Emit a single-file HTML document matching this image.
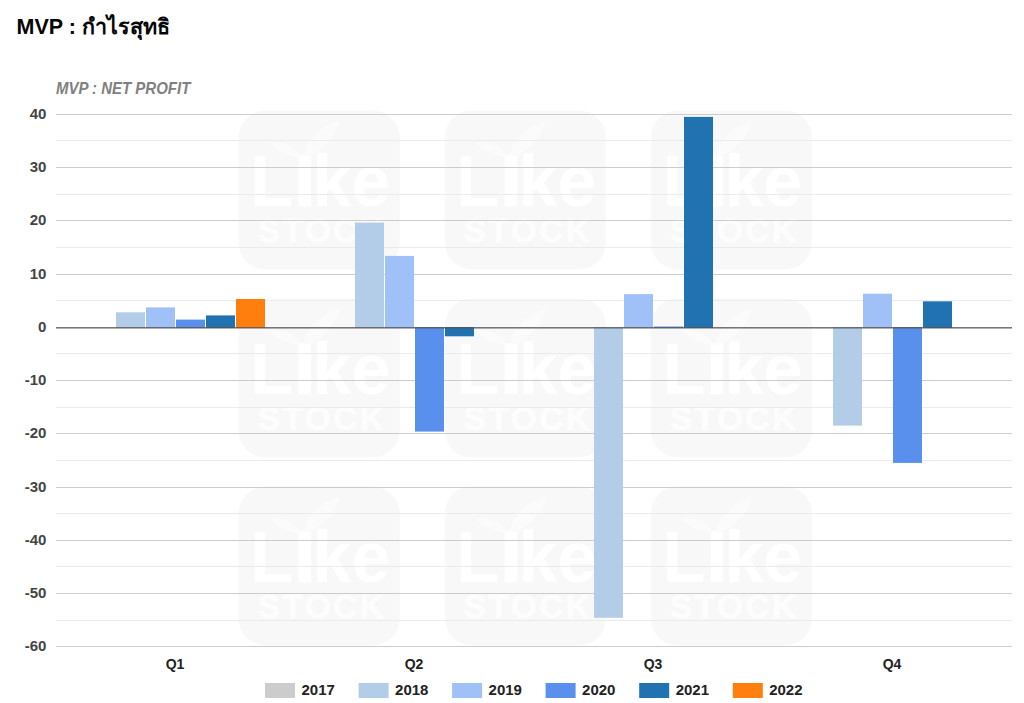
<!DOCTYPE html>
<html lang="th"><head><meta charset="utf-8"><title>MVP : Net Profit</title>
<style>
html,body{margin:0;padding:0;background:#fff;}
body{width:1024px;height:703px;overflow:hidden;position:relative;font-family:"Liberation Sans",sans-serif;}
svg{position:absolute;left:0;top:0;display:block;}
text{font-family:"Liberation Sans",sans-serif;font-weight:bold;}
.yl{font-size:15px;fill:#444;text-anchor:end;}
.xl{font-size:14px;fill:#222;text-anchor:middle;}
.lg{font-size:15px;fill:#222;}
.sub{font-size:15px;font-style:italic;fill:#808080;}
.wmL{font-size:70px;fill:#fff;}
.wmS{font-size:33.5px;fill:#fdfdfd;letter-spacing:2.4px;stroke:#fdfdfd;stroke-width:0.9px;}
</style></head><body>
<svg width="1024" height="703" viewBox="0 0 1024 703">
<rect width="1024" height="703" fill="#fff"/>
<g role="img" aria-label="MVP : กำไรสุทธิ"><title>MVP : กำไรสุทธิ</title>
<text x="16.5" y="33.8" font-size="21.5" fill="#050505" style="font-family:'Liberation Sans',sans-serif;font-weight:bold;">MVP : กำไรสุทธิ</text>
</g>
<text class="sub" transform="translate(56 94.2) scale(1 1.07)">MVP : NET PROFIT</text>
<defs><g id="wm">
<rect x="0" y="0" width="161" height="161" rx="27" ry="27" fill="#f8f8f8"/>
<g transform="translate(0 97) scale(1 1.035) translate(0 -97)">
<text class="wmL" x="11.5" y="97">L</text>
<rect x="59.8" y="46.9" width="12.4" height="50.1" fill="#fff"/>
<text class="wmL" x="73.8" y="97">ke</text>
</g>
<text class="wmS" x="19" y="133.2">STOCK</text>
<path fill="#fbfbfb" d="M65 46.5 C66 33 80 16 101 10 C99 23 88 38 70 46.5 Z"/>
<path fill="#fbfbfb" d="M63 46.5 C58 38 48 32 31 32 C36 40 47 45 61 47.5 Z"/>
</g></defs>
<use href="#wm" transform="translate(238.7 110.5) scale(1 0.9876)"/>
<use href="#wm" transform="translate(444.8 110.5) scale(1 0.9876)"/>
<use href="#wm" transform="translate(650.9 110.5) scale(1 0.9876)"/>
<use href="#wm" transform="translate(238.7 298.5) scale(1 0.9876)"/>
<use href="#wm" transform="translate(444.8 298.5) scale(1 0.9876)"/>
<use href="#wm" transform="translate(650.9 298.5) scale(1 0.9876)"/>
<use href="#wm" transform="translate(238.7 486.5) scale(1 0.9876)"/>
<use href="#wm" transform="translate(444.8 486.5) scale(1 0.9876)"/>
<use href="#wm" transform="translate(650.9 486.5) scale(1 0.9876)"/>
<g shape-rendering="crispEdges">
<rect x="56" y="114" width="956" height="1" fill="#cccccc"/>
<rect x="56" y="140" width="956" height="1" fill="#ebebeb"/>
<rect x="56" y="167" width="956" height="1" fill="#cccccc"/>
<rect x="56" y="194" width="956" height="1" fill="#ebebeb"/>
<rect x="56" y="220" width="956" height="1" fill="#cccccc"/>
<rect x="56" y="247" width="956" height="1" fill="#ebebeb"/>
<rect x="56" y="274" width="956" height="1" fill="#cccccc"/>
<rect x="56" y="300" width="956" height="1" fill="#ebebeb"/>
<rect x="56" y="353" width="956" height="1" fill="#ebebeb"/>
<rect x="56" y="380" width="956" height="1" fill="#cccccc"/>
<rect x="56" y="407" width="956" height="1" fill="#ebebeb"/>
<rect x="56" y="433" width="956" height="1" fill="#cccccc"/>
<rect x="56" y="460" width="956" height="1" fill="#ebebeb"/>
<rect x="56" y="487" width="956" height="1" fill="#cccccc"/>
<rect x="56" y="513" width="956" height="1" fill="#ebebeb"/>
<rect x="56" y="540" width="956" height="1" fill="#cccccc"/>
<rect x="56" y="566" width="956" height="1" fill="#ebebeb"/>
<rect x="56" y="593" width="956" height="1" fill="#cccccc"/>
<rect x="56" y="620" width="956" height="1" fill="#ebebeb"/>
<rect x="56" y="646" width="956" height="1" fill="#cccccc"/>
</g><g>
<rect x="116" y="312.3" width="29" height="15.7" fill="#b3cce8"/>
<rect x="146" y="307.4" width="29" height="20.6" fill="#a0c1f7"/>
<rect x="176" y="319.6" width="29" height="8.4" fill="#5990ee"/>
<rect x="206" y="315.4" width="29" height="12.6" fill="#2072b0"/>
<rect x="236" y="299.0" width="29" height="29.0" fill="#ff7f0e"/>
<rect x="355" y="222.6" width="29" height="105.4" fill="#b3cce8"/>
<rect x="385" y="255.9" width="29" height="72.1" fill="#a0c1f7"/>
<rect x="415" y="327.0" width="29" height="104.6" fill="#5990ee"/>
<rect x="445" y="327.0" width="29" height="9.3" fill="#2072b0"/>
<rect x="594" y="327.0" width="29" height="290.8" fill="#b3cce8"/>
<rect x="624" y="294.1" width="29" height="33.9" fill="#a0c1f7"/>
<rect x="654" y="326.5" width="29" height="1.5" fill="#5990ee"/>
<rect x="684" y="116.9" width="29" height="211.1" fill="#2072b0"/>
<rect x="833" y="327.0" width="29" height="98.6" fill="#b3cce8"/>
<rect x="863" y="293.7" width="29" height="34.3" fill="#a0c1f7"/>
<rect x="893" y="327.0" width="29" height="135.9" fill="#5990ee"/>
<rect x="923" y="301.3" width="29" height="26.7" fill="#2072b0"/>
<rect x="56" y="327.2" width="956" height="1.25" fill="#555"/>
</g>
<text class="yl" x="46.4" y="119.4">40</text>
<text class="yl" x="46.4" y="172.4">30</text>
<text class="yl" x="46.4" y="225.4">20</text>
<text class="yl" x="46.4" y="279.4">10</text>
<text class="yl" x="46.4" y="332.4">0</text>
<text class="yl" x="46.4" y="385.4">-10</text>
<text class="yl" x="46.4" y="438.4">-20</text>
<text class="yl" x="46.4" y="492.4">-30</text>
<text class="yl" x="46.4" y="545.4">-40</text>
<text class="yl" x="46.4" y="598.4">-50</text>
<text class="yl" x="46.4" y="651.4">-60</text>
<text class="xl" transform="translate(175.0 668.9) scale(1 1.07)">Q1</text>
<text class="xl" transform="translate(414.0 668.9) scale(1 1.07)">Q2</text>
<text class="xl" transform="translate(653.0 668.9) scale(1 1.07)">Q3</text>
<text class="xl" transform="translate(892.0 668.9) scale(1 1.07)">Q4</text>
<rect x="265.0" y="683" width="30" height="15" fill="#cccccc"/>
<text class="lg" x="301.5" y="695.2">2017</text>
<rect x="358.6" y="683" width="30" height="15" fill="#b3cce8"/>
<text class="lg" x="395.1" y="695.2">2018</text>
<rect x="452.1" y="683" width="30" height="15" fill="#a0c1f7"/>
<text class="lg" x="488.6" y="695.2">2019</text>
<rect x="545.6" y="683" width="30" height="15" fill="#5990ee"/>
<text class="lg" x="582.1" y="695.2">2020</text>
<rect x="639.2" y="683" width="30" height="15" fill="#2072b0"/>
<text class="lg" x="675.7" y="695.2">2021</text>
<rect x="732.8" y="683" width="30" height="15" fill="#ff7f0e"/>
<text class="lg" x="769.2" y="695.2">2022</text>
</svg>
</body></html>
